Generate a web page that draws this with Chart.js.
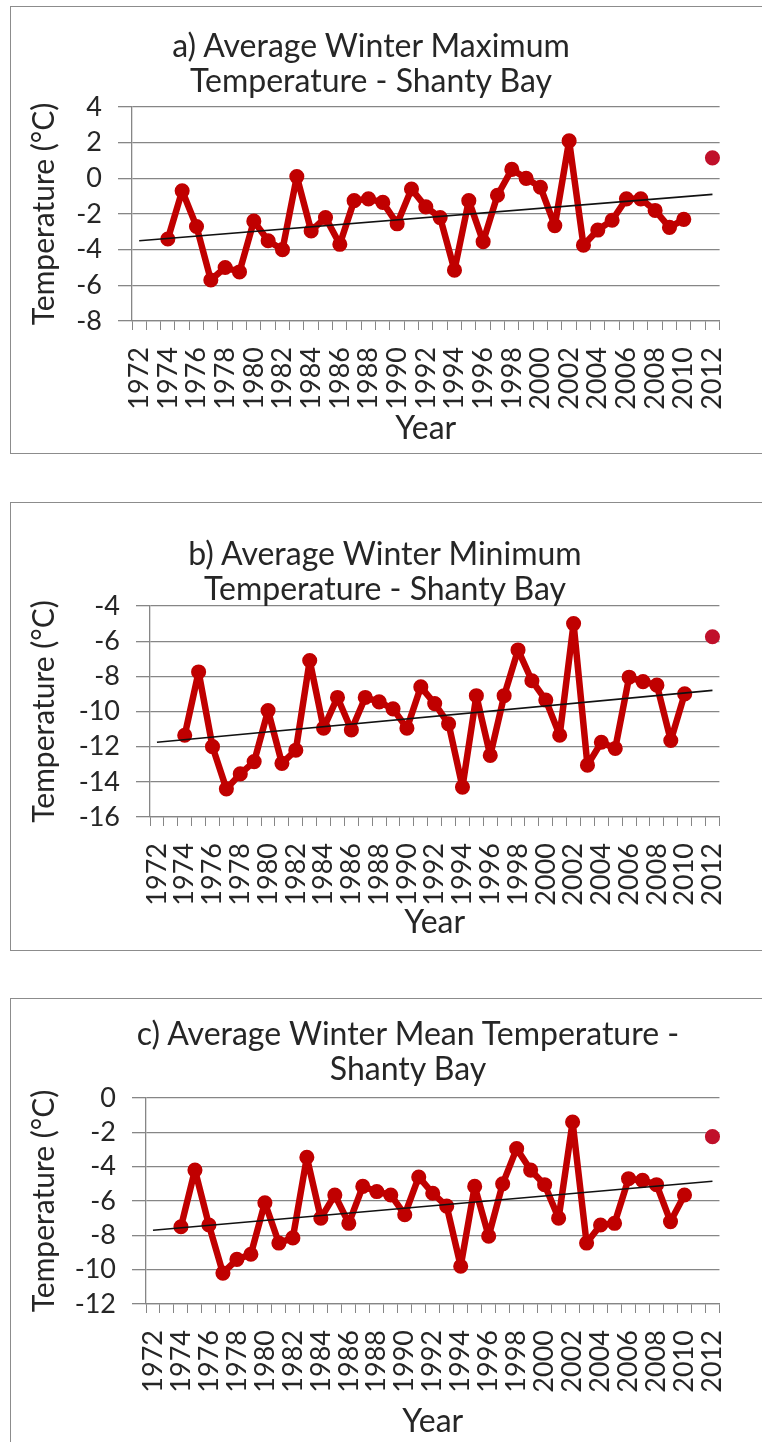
<!DOCTYPE html>
<html>
<head>
<meta charset="utf-8">
<script src="https://cdn.jsdelivr.net/npm/chart.js@4.4.1/dist/chart.umd.min.js"></script>
<style>
  html, body { margin:0; padding:0; background:#fff; overflow:hidden; width:762px; height:1442px; }
  .box { position:absolute; border:1px solid #8c8c8c; box-sizing:border-box; }
  .ttl { position:absolute; width:640px; text-align:center; font-family:Lato, sans-serif;
         font-size:32px; line-height:35px; color:#262626; white-space:nowrap; }
  canvas { position:absolute; }
</style>
</head>
<body>

<!-- a) max -->
<div class="box" style="left:10px;top:6px;width:790px;height:448px"></div>
<canvas id="chart_max" width="751" height="446" style="left:11px;top:7px"></canvas>
<div class="ttl" style="left:51px;top:27px">a) Average Winter Maximum<br>Temperature - Shanty Bay</div>

<!-- b) min -->
<div class="box" style="left:10px;top:502px;width:790px;height:449px"></div>
<canvas id="chart_min" width="751" height="446" style="left:11px;top:503px"></canvas>
<div class="ttl" style="left:65px;top:535px">b) Average Winter Minimum<br>Temperature - Shanty Bay</div>

<!-- c) mean -->
<div class="box" style="left:10px;top:998px;width:790px;height:470px"></div>
<canvas id="chart_mean" width="751" height="443" style="left:11px;top:999px"></canvas>
<div class="ttl" style="left:88px;top:1015px">c) Average Winter Mean Temperature -<br>Shanty Bay</div>

<script>
// ---- DATOS ----
const years = ['1972','1973','1974','1975','1976','1977','1978','1979','1980','1981',
  '1982','1983','1984','1985','1986','1987','1988','1989','1990','1991',
  '1992','1993','1994','1995','1996','1997','1998','1999','2000','2001',
  '2002','2003','2004','2005','2006','2007','2008','2009','2010','2011','2012'];

// average winter maximum (°C), 1972..2012
const maxTemp = [null, null, -3.4, -0.7, -2.7, -5.7, -5.0, -5.25, -2.4, -3.5,
  -4.0, 0.1, -2.95, -2.2, -3.7, -1.25, -1.15, -1.35, -2.55, -0.6,
  -1.6, -2.2, -5.15, -1.25, -3.55, -0.95, 0.5, 0.0, -0.5, -2.65,
  2.1, -3.75, -2.9, -2.35, -1.15, -1.15, -1.8, -2.75, -2.3, null, 1.15];

// average winter minimum
const minTemp = [null, null, -11.35, -7.75, -12.0, -14.4, -13.55, -12.85, -9.95, -12.95,
  -12.2, -7.1, -10.95, -9.2, -11.05, -9.2, -9.45, -9.85, -10.95, -8.6,
  -9.55, -10.7, -14.3, -9.1, -12.5, -9.1, -6.5, -8.25, -9.35, -11.35,
  -5.0, -13.05, -11.75, -12.1, -8.05, -8.3, -8.5, -11.65, -9.0, null, -5.75];

// average winter mean
const meanTemp = [null, null, -7.5, -4.2, -7.4, -10.2, -9.4, -9.1, -6.1, -8.45,
  -8.15, -3.45, -7.0, -5.65, -7.3, -5.15, -5.45, -5.65, -6.8, -4.6,
  -5.55, -6.3, -9.8, -5.15, -8.05, -5.0, -2.95, -4.2, -5.05, -7.0,
  -1.4, -8.45, -7.4, -7.3, -4.7, -4.8, -5.05, -7.2, -5.65, null, -2.25];

// trend lines: value at 1972 and at 2012
const maxTrend = [-3.5, -0.9];
const minTrend = [-11.75, -8.8];
const meanTrend = [-7.7, -4.85];

const maxTicks = [-8, 4];
const minTicks = [-16, -4];
const meanTicks = [-12, 0];

// ---- ESTILO ----
const RED = '#c00000';
const DOT = '#c0102a';
const GRID = '#868686';
const TXT = '#262626';
const FONT = 'Lato, sans-serif';

function trendSeries(tr){
  return years.map((y, i) => i === 0 ? tr[0] : (i === years.length - 1 ? tr[1] : null));
}

// g: yw = y axis width, top/right = layout padding, xh = x axis height, yearPad
function makeChart(id, values, trend, range, g){
  const ctx = document.getElementById(id).getContext('2d');
  // last point (2012) stands alone, slightly different red
  const ptColors = values.map((v, i) => i === values.length - 1 ? DOT : RED);
  return new Chart(ctx, {
    type: 'line',
    data: {
      labels: years,
      datasets: [
        { data: trendSeries(trend), borderColor: '#111', borderWidth: 1.6, pointRadius: 0, spanGaps: true, tension: 0 },
        { data: values, borderColor: RED, backgroundColor: RED, borderWidth: 6.5, pointRadius: 4.3,
          borderJoinStyle: 'round', borderCapStyle: 'round',
          pointBackgroundColor: ptColors, pointBorderColor: ptColors, spanGaps: false, tension: 0 }
      ]
    },
    options: {
      responsive: false, animation: false, devicePixelRatio: 1,
      layout: { padding: { top: g.top, right: g.right, left: 0, bottom: 0 } },
      plugins: { legend: { display: false }, tooltip: { enabled: false }, title: { display: false } },
      scales: {
        x: {
          type: 'category', offset: true,
          grid: { display: true, drawOnChartArea: false, drawTicks: true, tickLength: 9, offset: true, color: GRID },
          border: { display: true, color: GRID, width: 1.3 },
          ticks: {
            autoSkip: false, maxRotation: 90, minRotation: 90, padding: 17,
            color: TXT, font: { family: FONT, size: 27 },
            callback: function(v, i){ return i % 2 === 0 ? this.getLabelForValue(v) : ''; }
          },
          title: { display: true, text: 'Year', color: TXT, font: { family: FONT, size: 32 }, padding: { top: 0, bottom: g.yearPad } },
          afterFit: s => { s.height = g.xh; }
        },
        y: {
          min: range[0], max: range[1],
          grid: { color: GRID, lineWidth: 1.3, drawTicks: true, tickLength: 14 },
          border: { display: true, color: GRID, width: 1.3 },
          ticks: { stepSize: 2, autoSkip: false, padding: 16, color: TXT, font: { family: FONT, size: 27 } },
          title: { display: true, text: 'Temperature (°C)', color: TXT, font: { family: FONT, size: 30 }, padding: { top: 15, bottom: 0 } },
          afterFit: s => { s.width = g.yw; }
        }
      }
    }
  });
}

makeChart('chart_max', maxTemp, maxTrend, maxTicks, { yw: 121, top: 100, right: 12, xh: 132, yearPad: 5 });
makeChart('chart_min', minTemp, minTrend, minTicks, { yw: 139, top: 103, right: 12, xh: 132, yearPad: 7 });
makeChart('chart_mean', meanTemp, meanTrend, meanTicks, { yw: 135, top: 99, right: 7, xh: 138, yearPad: 1 });
</script>
</body>
</html>
